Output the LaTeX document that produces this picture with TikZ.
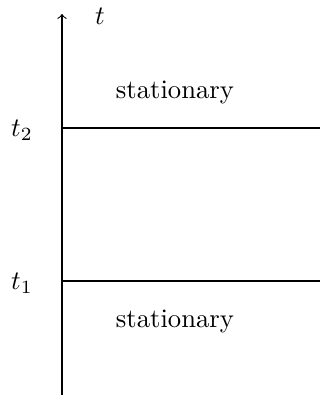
\documentclass[tikz,border=0pt]{standalone}
\begin{document}
\begin{tikzpicture}[x=0.375pt,y=-0.375pt,
  lbl/.style={inner sep=0pt},
  axisline/.style={->,line width=0.4pt},
  level/.style={line width=0.4pt}]
\useasboundingbox (0,0) rectangle (320,397);
\coordinate (bot) at (62,395);
\coordinate (top) at (62,14);
\coordinate (a2) at (62,128);
\coordinate (b2) at (320,128);
\coordinate (a1) at (62,281);
\coordinate (b1) at (320,281);
\draw[axisline] (bot) -- (top);
\draw[level] (a2) -- (b2);
\draw[level] (a1) -- (b1);
\node[lbl] (tlab) at (100,16) {$t$};
\node[lbl] (t2lab) at (22,130) {$t_2$};
\node[lbl] (t1lab) at (22,283) {$t_1$};
\node[lbl] (s2) at (175,92) {stationary};
\node[lbl] (s1) at (175,321) {stationary};
\end{tikzpicture}
\end{document}
